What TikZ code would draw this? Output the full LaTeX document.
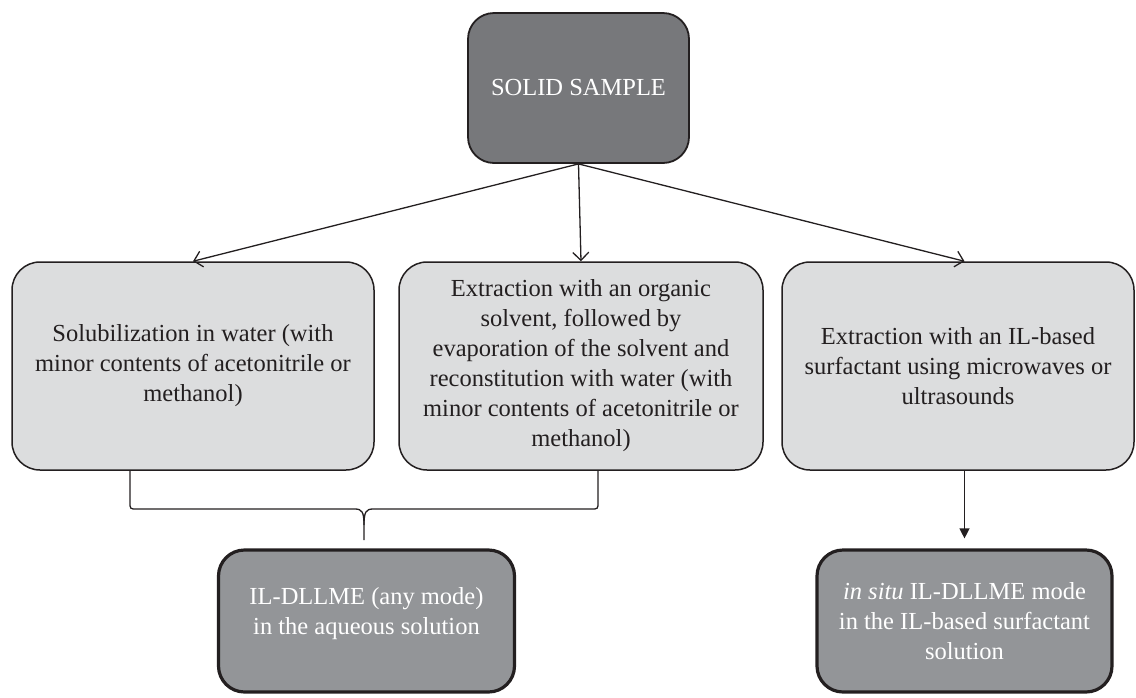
\documentclass[tikz,border=0pt]{standalone}
\usepackage{fontspec}
\setmainfont{Liberation Serif}
\usetikzlibrary{arrows.meta}
\definecolor{linecol}{HTML}{231F20}
\definecolor{topfill}{HTML}{77787B}
\definecolor{midfill}{HTML}{DCDDDE}
\definecolor{resfill}{HTML}{939598}
\begin{document}
\begin{tikzpicture}[x=1pt,y=-1pt]
\tikzset{
  basebox/.style={draw=linecol, align=center, inner sep=0pt, font=\fontsize{24.5}{30}\selectfont},
  topbox/.style={basebox, fill=topfill, text=white, line width=1.8pt, rounded corners=26pt, minimum width=221pt, minimum height=150pt},
  midbox/.style={basebox, fill=midfill, text=linecol, line width=1.5pt, rounded corners=28pt, minimum width=362pt, minimum height=208pt},
  resbox/.style={basebox, fill=resfill, text=white, line width=3.2pt, rounded corners=26pt, minimum width=296pt, minimum height=142pt},
  openarrow/.style={draw=linecol, line width=1.3pt, -{Straight Barb[length=8pt,width=16pt,line width=1.3pt]}},
  filledarrow/.style={draw=linecol, line width=1.3pt, -{Triangle[length=10pt,width=10pt]}},
  bracepath/.style={draw=linecol, line width=1.3pt}
}
\useasboundingbox (0,0) rectangle (1136,697);

\node[topbox] (top) at (578.5,88) {SOLID SAMPLE};
\node[midbox] (left) at (193,366) {Solubilization in water (with\\minor contents of acetonitrile or\\methanol)};
\node[midbox, minimum width=364pt] (mid) at (581,366) {Extraction with an organic\\solvent, followed by\\evaporation of the solvent and\\reconstitution with water (with\\minor contents of acetonitrile or\\methanol)};
\node[midbox, minimum width=352pt] (right) at (958,366) {Extraction with an IL-based\\surfactant using microwaves or\\ultrasounds};
\node[resbox] (resl) at (366.5,621) {\raisebox{8pt}[\height][\depth]{\begin{tabular}{@{}c@{}}IL-DLLME (any mode)\\in the aqueous solution\end{tabular}}};
\node[resbox, minimum width=295pt] (resr) at (964.5,621) {\textit{in situ} IL-DLLME mode\\in the IL-based surfactant\\solution};

\draw[openarrow] (top.south) -- (left.north);
\draw[openarrow] (top.south) -- (mid.north);
\draw[openarrow] (top.south) -- (right.north -| resr.north);
\draw[filledarrow, shorten >=10pt] (right.south -| resr.north) -- (resr.north);

\coordinate (bl) at (130,470);
\coordinate (br) at (598,470);
\coordinate (tip) at (364,540);
\draw[bracepath] (bl) -- (130,502) .. controls (130,509) .. (137,509) -- (355,509) .. controls (362,509) and (364,512) .. (364,525) -- (tip);
\draw[bracepath] (br) -- (598,502) .. controls (598,509) .. (591,509) -- (373,509) .. controls (366,509) and (364,512) .. (364,525);
\end{tikzpicture}
\end{document}
